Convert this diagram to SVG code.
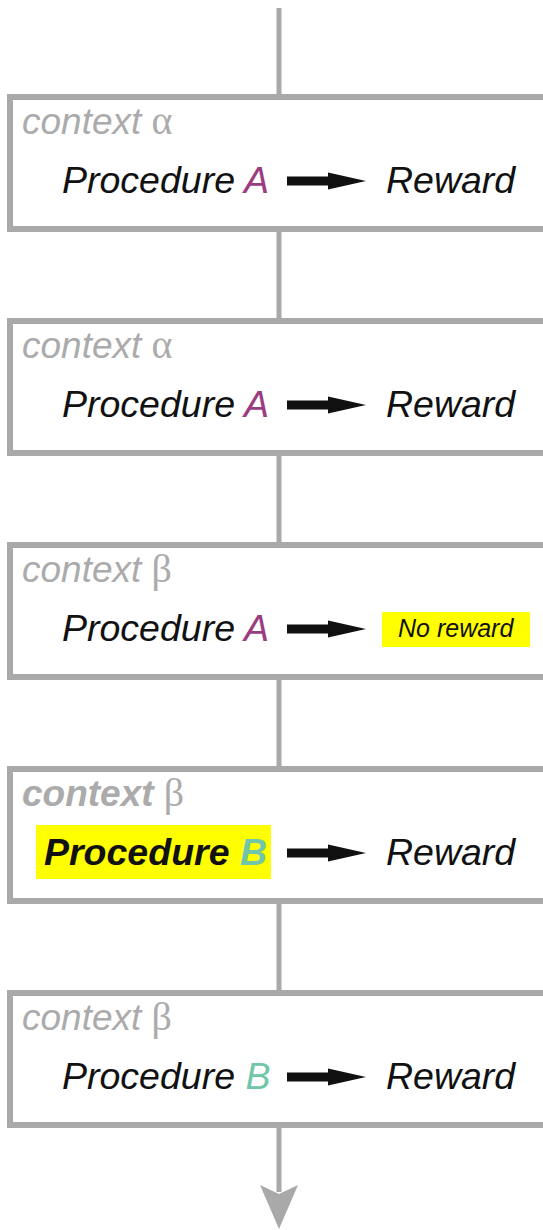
<svg xmlns="http://www.w3.org/2000/svg" width="543" height="1230" viewBox="0 0 543 1230">
<style>
.box{fill:#fff;stroke:#a9a9a9;stroke-width:6}
.ctx{font-family:"Liberation Sans",Arial,sans-serif;font-style:italic;font-size:37px;fill:#ababab}
.greek{font-family:"Liberation Serif","Times New Roman",serif;font-style:normal;font-weight:normal;font-size:40px}
.proc{font-family:"Liberation Sans",Arial,sans-serif;font-style:italic;font-size:37.5px;fill:#111}
.a{fill:#9b3c80}
.b{fill:#71c6a9}
.hl{fill:#ffff00}
.small{font-family:"Liberation Sans",Arial,sans-serif;font-style:italic;font-size:25px;fill:#111}
.conn{stroke:#a9a9a9;stroke-width:5;fill:none}
</style>
<defs>
<path id="arr" d="M287,-4.5 L328,-4.5 L328,-8.5 L366,0 L328,8.5 L328,4.5 L287,4.5 Z" fill="#111"/>
</defs>
<g id="connectors">
<line class="conn" x1="279" y1="8" x2="279" y2="95"/>
<line class="conn" x1="279" y1="230" x2="279" y2="319"/>
<line class="conn" x1="279" y1="454" x2="279" y2="543"/>
<line class="conn" x1="279" y1="678" x2="279" y2="767"/>
<line class="conn" x1="279" y1="902" x2="279" y2="991"/>
<line class="conn" x1="279" y1="1126" x2="279" y2="1192"/>
<polygon points="260,1185 279,1194 298,1185 279,1229" fill="#a9a9a9"/>
</g>
<g id="node1" transform="translate(0,94)">
<rect class="box" x="10" y="3" width="560" height="132"/>
<text class="ctx" x="22" y="40">context <tspan class="greek">α</tspan></text>
<text class="proc" x="62" y="99">Procedure <tspan class="a">A</tspan></text>
<use href="#arr" y="87"/>
<text class="proc" x="386" y="99">Reward</text>
</g>
<g id="node2" transform="translate(0,318)">
<rect class="box" x="10" y="3" width="560" height="132"/>
<text class="ctx" x="22" y="40">context <tspan class="greek">α</tspan></text>
<text class="proc" x="62" y="99">Procedure <tspan class="a">A</tspan></text>
<use href="#arr" y="87"/>
<text class="proc" x="386" y="99">Reward</text>
</g>
<g id="node3" transform="translate(0,542)">
<rect class="box" x="10" y="3" width="560" height="132"/>
<text class="ctx" x="22" y="40">context <tspan class="greek">β</tspan></text>
<text class="proc" x="62" y="99">Procedure <tspan class="a">A</tspan></text>
<use href="#arr" y="87"/>
<rect class="hl" x="382" y="70" width="148" height="35"/>
<text class="small" x="398" y="95">No reward</text>
</g>
<g id="node4" transform="translate(0,766)">
<rect class="box" x="10" y="3" width="560" height="132"/>
<text class="ctx" x="22" y="40" font-weight="bold">context <tspan class="greek">β</tspan></text>
<rect class="hl" x="36" y="59" width="235" height="54"/>
<text class="proc" x="44" y="99" font-weight="bold">Procedure <tspan class="b">B</tspan></text>
<use href="#arr" y="87"/>
<text class="proc" x="386" y="99">Reward</text>
</g>
<g id="node5" transform="translate(0,990)">
<rect class="box" x="10" y="3" width="560" height="132"/>
<text class="ctx" x="22" y="40">context <tspan class="greek">β</tspan></text>
<text class="proc" x="62" y="99">Procedure <tspan class="b">B</tspan></text>
<use href="#arr" y="87"/>
<text class="proc" x="386" y="99">Reward</text>
</g>
</svg>
